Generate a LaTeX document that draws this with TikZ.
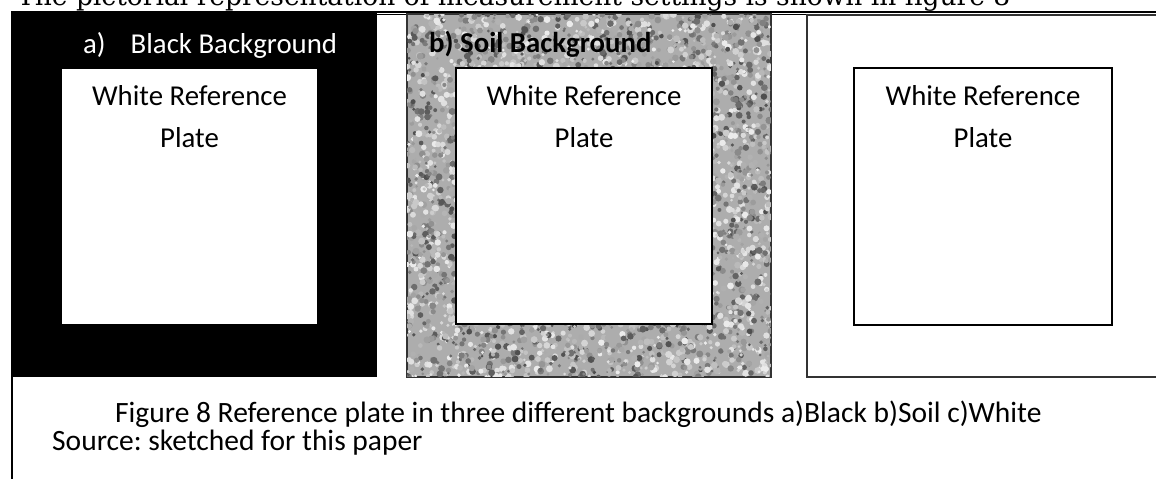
\documentclass[tikz,border=0pt]{standalone}
\usepackage{fontspec}
\setmainfont{Carlito}
\newfontfamily\bodyserif{DejaVu Serif}
\usetikzlibrary{positioning}
\frenchspacing

\begin{document}
\begin{tikzpicture}
	[
	   x = 1pt, y = -1pt,
	   panel/.style = {draw = black!80, line width = 1.4pt, inner sep = 0pt,
	                   minimum width = 364pt, minimum height = 363pt},
	   plate/.style = {draw, fill = white, line width = 1.8pt, inner sep = 0pt,
	                   minimum width = 256pt, minimum height = 256pt},
	   platetext/.style = {align = center, anchor = base, inner sep = 0pt,
	                       font = \fontsize{28.8}{42}\selectfont},
	   bglabel/.style = {anchor = base west, inner sep = 0pt,
	                     font = \fontsize{28.8}{34}\selectfont},
	   caption/.style = {anchor = base west, inner sep = 0pt,
	                     font = \fontsize{29.5}{34}\selectfont},
	]
	\useasboundingbox (0,0) rectangle (1156,479);
	\clip (0,0) rectangle (1156,479);

	% running text above the figure, cut off by the frame
	\node[anchor = base west, inner sep = 0pt, font = \bodyserif\fontsize{26.5}{30}\selectfont]
		(intro) at (17,5.5) {The pictorial representation of measurement settings is shown in figure 8};

	% table rules
	\draw[line width = 1.6pt] (11,11.8) -- (1156,11.8);
	\draw[line width = 1.2pt] (11,14.6) -- (1156,14.6);
	\draw[line width = 1.4pt] (12,11) -- (12,479);

	% a) black background
	\node[panel, draw = none, fill = black, minimum width = 365pt, minimum height = 364pt]
		(bgBlack) at (194.5,195) {};
	\node[plate, draw = none, minimum width = 255pt, minimum height = 255pt]
		(plateBlack) at (189.5,196.5) {};
	\node[bglabel, text = white] (lblBlack) at (83,53) {a)\hspace{25pt}Black Background};

	% b) soil background, mottled grey speckles
	\node[panel, fill = black!32] (bgSoil) at (589,195.5) {};
	\begin{scope}
		\clip (bgSoil.north west) rectangle (bgSoil.south east);
		\pgfmathsetseed{42}
		\foreach \i in {1,...,4400} {
			\pgfmathsetmacro{\gx}{407+364*rnd}
			\pgfmathsetmacro{\gy}{14+363*rnd}
			\pgfmathsetmacro{\gr}{1.4+2.1*rnd}
			\pgfmathsetmacro{\gk}{int(8+62*rnd^1.3)}
			\fill[black!\gk] (\gx,\gy) circle (\gr);
		}
	\end{scope}
	\draw[black!80, line width = 1.4pt] (bgSoil.north west) rectangle (bgSoil.south east);
	\node[plate] (plateSoil) at (584,196) {};
	\node[bglabel, font = \fontsize{28.8}{34}\selectfont\bfseries] (lblSoil) at (429,52) {b) Soil Background};

	% c) white background
	\node[panel, minimum width = 363pt, minimum height = 362pt] (bgWhite) at (988.5,196) {};
	\node[plate, minimum width = 258pt, minimum height = 257pt] (plateWhite) at (983,196.5) {};

	% plate texts (base sits on the last line)
	\node[platetext] (txtBlack) at ([yshift = -79pt]plateBlack.north) {White Reference\\Plate};
	\node[platetext] (txtSoil) at ([yshift = -80pt]plateSoil.north) {White Reference\\Plate};
	\node[platetext] (txtWhite) at ([yshift = -80pt]plateWhite.north) {White Reference\\Plate};

	% caption
	\node[caption] (capMain) at (115,422)
		{Figure 8 Reference plate in three different backgrounds a)Black b)Soil c)White};
	\node[caption] (capSource) at (52,450) {Source: sketched for this paper};
\end{tikzpicture}
\end{document}
